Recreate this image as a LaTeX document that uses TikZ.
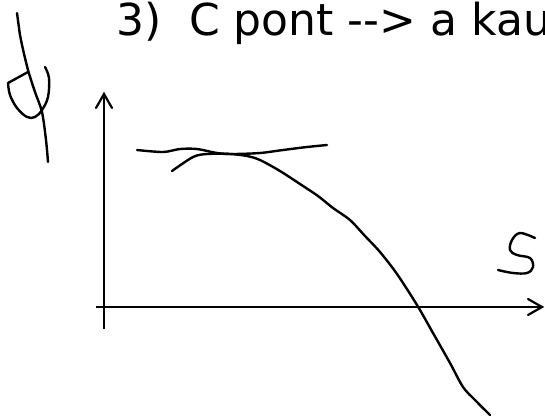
\documentclass[tikz,border=0pt]{standalone}
\usepackage{fontspec}
\setmainfont{DejaVu Sans}
\begin{document}
\begin{tikzpicture}[x=1pt,y=-1pt,
  pen/.style={line width=2.4pt,line cap=round,line join=round},
  axis/.style={line width=2.2pt},
  tip/.style={line width=2.2pt,line cap=round,line join=miter}]
\useasboundingbox (0,0) rectangle (545,416);
% title
\node[anchor=base west,inner sep=0pt,font=\fontsize{44}{50}\selectfont] (title) at (116,35) {3)\ \ C pont {-}{-}> a kau};
% phi symbol
\draw[pen] plot[smooth,tension=0.5] coordinates {(17,13) (20,35) (22,45) (28,70) (35,92) (42,112) (46,140) (48,162)};
\draw[pen] plot[smooth,tension=0.6] coordinates {(45,67) (49,78) (48,97) (42,110) (35,117) (27,117) (17,108) (10,95) (8,83)} -- (28,72);
% axes
\draw[axis] (104,329) -- (104,94);
\draw[tip] (96,108) -- (104,94) -- (112,108);
\draw[axis] (96,307) -- (542,307);
\draw[tip] (528,299) -- (542,307) -- (528,315);
% s label
\draw[pen] plot[smooth,tension=0.6] coordinates {(535,238) (520,233) (512,240) (510,250) (517,255) (530,258) (533,267) (527,273) (513,273) (498,270)};
% tangent line
\draw[pen] plot[smooth,tension=0.5] coordinates {(137,150) (163,152) (180,149) (197,149) (217,153) (233,154) (260,153) (283,150) (307,147) (327,145)};
% main curve
\draw[pen] plot[smooth,tension=0.5] coordinates {(172,171) (193,157) (207,154) (230,154) (247,156) (260,160) (280,171) (300,184) (318,196) (333,208) (350,220) (365,236) (380,252) (397,274) (417,305) (433,333) (450,363) (463,387) (475,400) (490,415)};
\end{tikzpicture}
\end{document}
